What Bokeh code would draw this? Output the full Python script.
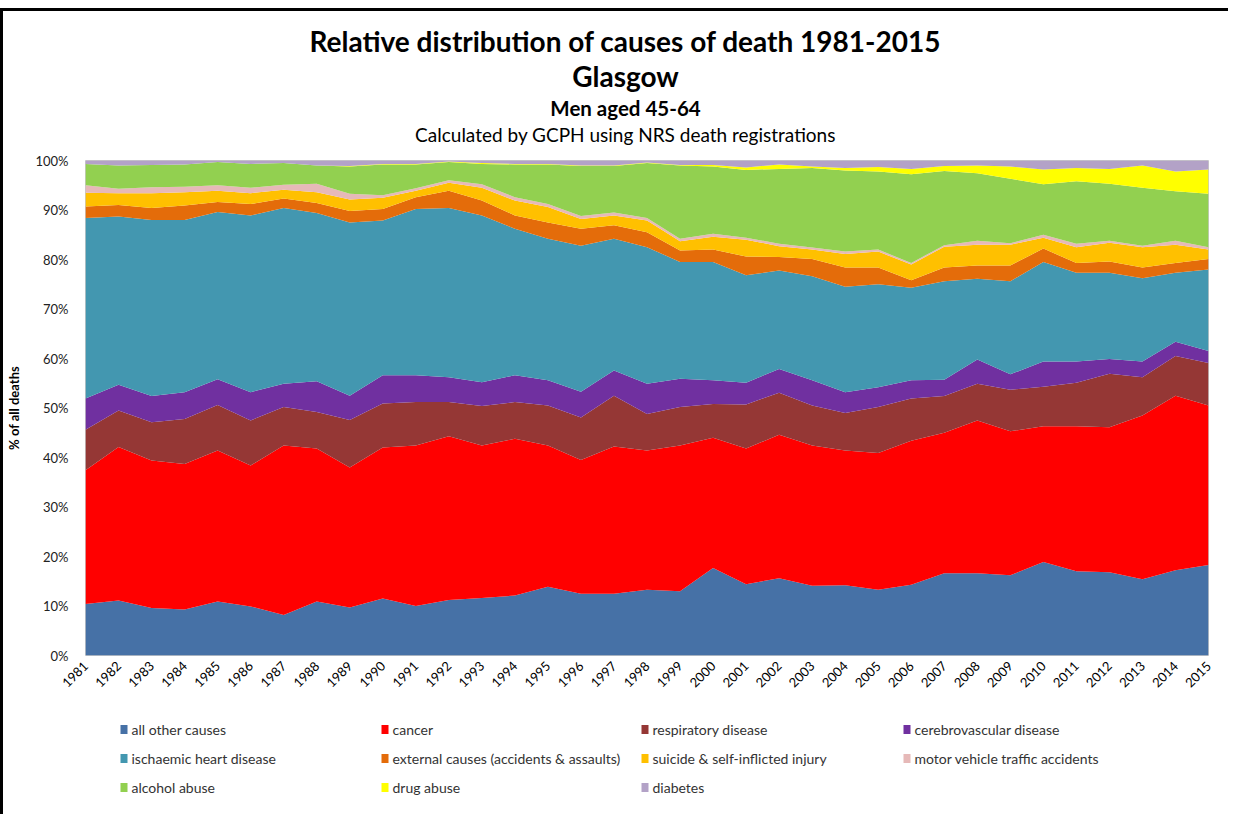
import numpy as np
from bokeh.plotting import figure
from bokeh.models import Range1d, FixedTicker, ColumnDataSource
from bokeh.layouts import column
from bokeh.embed import file_html
from bokeh.resources import INLINE
from bokeh.core.properties import value

# ---------------- data ----------------
years = list(range(1981, 2016))
year_labels = [str(y) for y in years]
pct_ticks = [0, 10, 20, 30, 40, 50, 60, 70, 80, 90, 100]
pct_labels = [f"{t}%" for t in pct_ticks]

title1 = "Relative distribution of causes of death 1981-2015"
title2 = "Glasgow"
title3 = "Men aged 45-64"
title4 = "Calculated by GCPH using NRS death registrations"
y_title = "% of all deaths"

series_names = [
    "all other causes", "cancer", "respiratory disease", "cerebrovascular disease",
    "ischaemic heart disease", "external causes (accidents & assaults)",
    "suicide & self-inflicted injury", "motor vehicle traffic accidents",
    "alcohol abuse", "drug abuse", "diabetes",
]
colors = ["#4671A6", "#FF0000", "#953735", "#7030A0", "#4397B0", "#E46C0A",
          "#FFC000", "#E6B9B8", "#92D050", "#FFFF00", "#B3A2C7"]

all_other = [10.4, 11.1, 9.6, 9.3, 10.9, 9.9, 8.2, 10.9, 9.7, 11.5, 10.0, 11.2, 11.6, 12.1, 13.9,
             12.5, 12.5, 13.3, 13.0, 17.7, 14.4, 15.6, 14.1, 14.2, 13.3, 14.3, 16.6, 16.6, 16.2,
             18.9, 17.0, 16.8, 15.4, 17.2, 18.3]
cancer = [27.0, 31.0, 29.8, 29.4, 30.5, 28.5, 34.2, 30.9, 28.3, 30.5, 32.4, 33.1, 30.8, 31.7, 28.5,
          27.0, 29.7, 28.1, 29.4, 26.3, 27.4, 29.0, 28.3, 27.2, 27.6, 29.1, 28.4, 30.9, 29.1,
          27.4, 29.3, 29.3, 33.1, 35.3, 32.2]
respiratory = [8.2, 7.4, 7.7, 9.1, 9.2, 9.1, 7.8, 7.4, 9.6, 8.9, 8.8, 6.9, 8.0, 7.4, 8.1,
               8.6, 10.3, 7.4, 7.8, 6.8, 8.9, 8.5, 8.1, 7.6, 9.3, 8.5, 7.4, 7.4, 8.4,
               8.0, 8.8, 10.8, 7.7, 8.0, 8.6]
cerebrovascular = [6.3, 5.2, 5.3, 5.4, 5.2, 5.7, 4.7, 6.2, 4.9, 5.7, 5.4, 5.0, 4.8, 5.4, 5.1,
                   5.2, 5.1, 6.1, 5.7, 4.8, 4.4, 4.8, 5.1, 4.2, 4.0, 3.7, 3.3, 4.9, 3.1,
                   5.1, 4.3, 3.0, 3.2, 2.9, 2.4]
ischaemic = [36.5, 34.0, 35.6, 34.8, 33.8, 35.7, 35.5, 34.0, 35.0, 31.3, 33.6, 34.2, 33.7, 29.6, 28.6,
             29.5, 26.6, 27.6, 23.6, 23.9, 21.7, 19.9, 21.0, 21.3, 20.8, 18.7, 19.9, 16.3, 18.8,
             20.1, 17.9, 17.4, 16.8, 13.9, 16.5]
external = [2.3, 2.3, 2.4, 2.9, 2.0, 2.3, 1.9, 2.0, 2.3, 2.3, 2.4, 3.5, 3.0, 2.7, 3.3,
            3.4, 2.7, 3.0, 2.3, 2.5, 3.8, 2.7, 3.5, 3.9, 3.4, 1.5, 2.8, 2.7, 3.2,
            2.7, 2.0, 2.3, 2.2, 2.0, 2.1]
suicide = [2.8, 2.4, 3.0, 2.7, 2.3, 2.2, 1.8, 2.2, 2.3, 2.3, 1.3, 1.6, 2.6, 3.0, 3.1,
           2.0, 2.0, 2.4, 1.9, 2.6, 3.4, 2.2, 1.9, 2.7, 3.2, 3.2, 4.2, 4.2, 4.2,
           2.2, 3.2, 3.8, 4.1, 3.7, 1.9]
motor_vehicle = [1.5, 0.9, 1.2, 1.1, 1.1, 1.1, 1.0, 1.7, 1.2, 0.5, 0.5, 0.5, 0.7, 0.7, 0.6,
                 0.6, 0.6, 0.5, 0.5, 0.6, 0.4, 0.5, 0.4, 0.5, 0.4, 0.3, 0.3, 0.8, 0.3,
                 0.6, 0.7, 0.4, 0.3, 0.8, 0.5]
alcohol = [4.3, 4.7, 4.5, 4.5, 4.7, 4.8, 4.4, 3.7, 5.5, 6.2, 4.8, 3.7, 4.1, 6.6, 8.0,
           10.1, 9.4, 11.1, 14.8, 13.6, 13.7, 15.1, 16.1, 16.4, 15.8, 17.9, 15.0, 13.6, 13.0,
           10.2, 12.6, 11.5, 11.7, 10.0, 10.8]
drug = [0.0, 0.0, 0.0, 0.0, 0.0, 0.0, 0.0, 0.0, 0.1, 0.1, 0.1, 0.1, 0.2, 0.1, 0.1,
        0.1, 0.1, 0.1, 0.1, 0.3, 0.5, 0.9, 0.3, 0.5, 0.9, 1.1, 1.0, 1.6, 2.5,
        3.0, 2.7, 3.0, 4.5, 4.0, 4.9]
diabetes = [0.7, 1.0, 0.9, 0.8, 0.3, 0.7, 0.5, 1.0, 1.1, 0.7, 0.7, 0.2, 0.5, 0.7, 0.7,
            1.0, 1.0, 0.4, 0.9, 0.9, 1.4, 0.8, 1.2, 1.5, 1.3, 1.7, 1.1, 1.0, 1.2,
            1.8, 1.5, 1.7, 1.0, 2.2, 1.8]

series_values = [all_other, cancer, respiratory, cerebrovascular, ischaemic, external,
                 suicide, motor_vehicle, alcohol, drug, diabetes]

# ---------------- layout constants ----------------
W = 1225            # figure width (content starts at page x = 3)
BL, BR = 82, 20     # left / right borders -> frame spans page x 85..1208
FL, FR = 85, 1208   # frame extent in page pixels (used as data range for header/legend)
FONT = "Lato"


def blank(height):
    f = figure(width=W, height=height, x_range=Range1d(FL, FR), y_range=Range1d(0, height),
               output_backend="svg", toolbar_location=None,
               min_border_left=BL, min_border_right=BR, min_border_top=0, min_border_bottom=0,
               x_axis_location=None, y_axis_location=None, outline_line_color=None)
    f.grid.visible = False
    return f


# ---------------- header ----------------
HH = 139
hdr = blank(HH)
cx = 625
for txt, yy, size, style in [(title1, 110, "28px", "bold"), (title2, 75, "28px", "bold"),
                             (title3, 43, "20.5px", "bold"), (title4, 16, "19px", "normal")]:
    hdr.text(x=[cx], y=[yy], text=[txt], text_font=value(FONT), text_font_size=size,
             text_font_style=style, text_align="center", text_baseline="middle",
             text_color="#000000")

# ---------------- main plot ----------------
keys = [f"s{i}" for i in range(len(series_values))]
data = {"year": years}
for k, vals in zip(keys, series_values):
    data[k] = vals
src = ColumnDataSource(data)

MH = 562
p = figure(width=W, height=MH, x_range=Range1d(years[0], years[-1]), y_range=Range1d(0, 100),
           output_backend="svg", toolbar_location=None,
           min_border_left=BL, min_border_right=BR, min_border_top=10, min_border_bottom=57)
p.varea_stack(stackers=keys, x="year", color=colors, source=src)
p.grid.visible = False
p.outline_line_color = "#C8C8C8"
p.background_fill_color = "white"

p.xaxis.ticker = FixedTicker(ticks=years)
p.xaxis.major_label_overrides = {y: l for y, l in zip(years, year_labels)}
p.xaxis.major_label_orientation = np.pi / 4
p.xaxis.major_label_text_font = FONT
p.xaxis.major_label_text_font_size = "13px"
p.xaxis.major_label_text_color = "#000000"
p.xaxis.axis_line_color = None
p.xaxis.major_tick_line_color = None
p.xaxis.minor_tick_line_color = None
p.xaxis.major_tick_out = 0
p.xaxis.major_tick_in = 0
p.xaxis.major_label_standoff = 8

p.yaxis.ticker = FixedTicker(ticks=pct_ticks)
p.yaxis.major_label_overrides = {t: l for t, l in zip(pct_ticks, pct_labels)}
p.yaxis.major_label_text_font = FONT
p.yaxis.major_label_text_font_size = "13px"
p.yaxis.major_label_text_color = "#222222"
p.yaxis.axis_line_color = None
p.yaxis.major_tick_line_color = None
p.yaxis.minor_tick_line_color = None
p.yaxis.major_tick_out = 0
p.yaxis.major_tick_in = 0
p.yaxis.major_label_standoff = 17
p.yaxis.axis_label = y_title
p.yaxis.axis_label_text_font = FONT
p.yaxis.axis_label_text_font_size = "13px"
p.yaxis.axis_label_text_font_style = "bold"
p.yaxis.axis_label_text_color = "#000000"
p.yaxis.axis_label_standoff = 10

# ---------------- legend ----------------
LH = 102
leg = blank(LH)
col_x = [120, 381, 641, 903]     # page x of legend swatches
row_y = [85, 56, 27]             # rows at page y ~729, 758, 787
lx, ly = [], []
for i in range(len(series_names)):
    lx.append(col_x[i % 4])
    ly.append(row_y[i // 4])
leg.rect(x=[v + 3.5 for v in lx], y=ly, width=7, height=9, fill_color=colors, line_color=None)
leg.text(x=[v + 11 for v in lx], y=ly, text=series_names, text_font=value(FONT),
         text_font_size="14px", text_color="#333333", text_baseline="middle", text_align="left")

layout = column(hdr, p, leg, spacing=0,
                styles={"margin-top": "8px", "border-top": "3px solid #000000",
                        "border-left": "3px solid #000000"})

open("out.html", "w").write(file_html(layout, INLINE))
